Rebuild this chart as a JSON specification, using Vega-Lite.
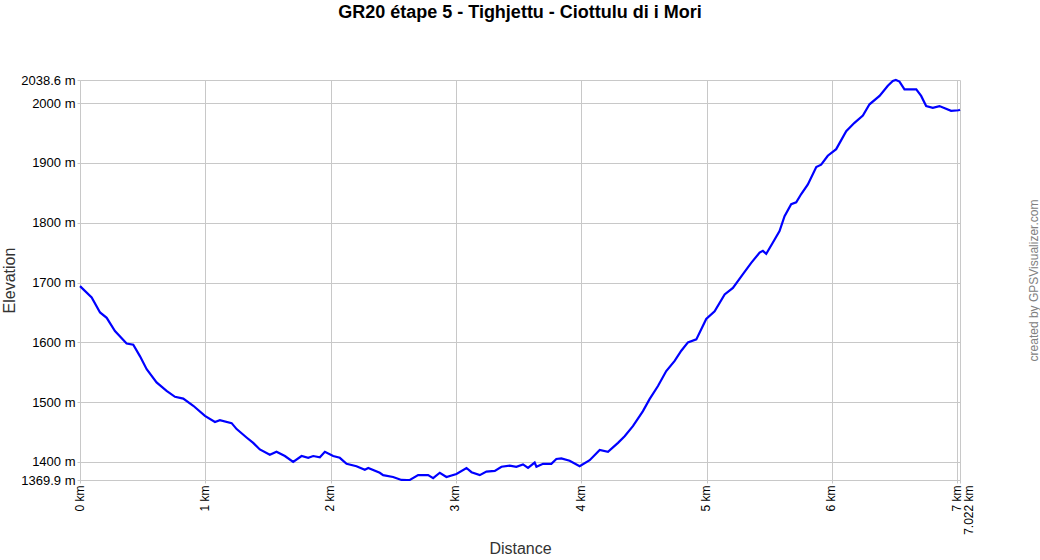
{
  "$schema": "https://vega.github.io/schema/vega-lite/v6.json",
  "width": 880,
  "height": 400,
  "autosize": {"type": "none"},
  "padding": {"left": 80, "top": 80, "right": 80, "bottom": 80},
  "background": "white",
  "title": {
    "text": "GR20 étape 5 - Tighjettu - Ciottulu di i Mori",
    "font": "Liberation Sans",
    "fontSize": 18,
    "fontWeight": "bold",
    "color": "black",
    "anchor": "middle",
    "frame": "group",
    "offset": 52
  },
  "config": {
    "view": {"stroke": null},
    "font": "Liberation Sans"
  },
  "data": {
    "values": [
      {"km": 0, "ele": 1694},
      {"km": 0.093, "ele": 1675},
      {"km": 0.16, "ele": 1650},
      {"km": 0.213, "ele": 1641},
      {"km": 0.279, "ele": 1619},
      {"km": 0.372, "ele": 1598},
      {"km": 0.425, "ele": 1596},
      {"km": 0.478, "ele": 1577},
      {"km": 0.532, "ele": 1555},
      {"km": 0.611, "ele": 1533},
      {"km": 0.691, "ele": 1519},
      {"km": 0.758, "ele": 1509},
      {"km": 0.824, "ele": 1506},
      {"km": 0.904, "ele": 1494},
      {"km": 0.997, "ele": 1477},
      {"km": 1.077, "ele": 1467},
      {"km": 1.116, "ele": 1470},
      {"km": 1.21, "ele": 1465},
      {"km": 1.25, "ele": 1455},
      {"km": 1.329, "ele": 1441},
      {"km": 1.382, "ele": 1432},
      {"km": 1.435, "ele": 1421},
      {"km": 1.515, "ele": 1412},
      {"km": 1.568, "ele": 1417},
      {"km": 1.635, "ele": 1410},
      {"km": 1.701, "ele": 1400},
      {"km": 1.768, "ele": 1410},
      {"km": 1.821, "ele": 1407},
      {"km": 1.861, "ele": 1410},
      {"km": 1.914, "ele": 1408},
      {"km": 1.954, "ele": 1417},
      {"km": 2.02, "ele": 1410},
      {"km": 2.073, "ele": 1407},
      {"km": 2.127, "ele": 1397},
      {"km": 2.206, "ele": 1393},
      {"km": 2.273, "ele": 1387},
      {"km": 2.3, "ele": 1390},
      {"km": 2.392, "ele": 1382},
      {"km": 2.419, "ele": 1378},
      {"km": 2.498, "ele": 1375},
      {"km": 2.565, "ele": 1370},
      {"km": 2.61, "ele": 1369.9},
      {"km": 2.632, "ele": 1370},
      {"km": 2.698, "ele": 1378},
      {"km": 2.778, "ele": 1378},
      {"km": 2.818, "ele": 1373},
      {"km": 2.871, "ele": 1382},
      {"km": 2.924, "ele": 1375},
      {"km": 3.004, "ele": 1380},
      {"km": 3.084, "ele": 1390},
      {"km": 3.124, "ele": 1383},
      {"km": 3.19, "ele": 1378},
      {"km": 3.243, "ele": 1384},
      {"km": 3.31, "ele": 1385},
      {"km": 3.363, "ele": 1392},
      {"km": 3.429, "ele": 1394},
      {"km": 3.482, "ele": 1392},
      {"km": 3.535, "ele": 1396},
      {"km": 3.575, "ele": 1390},
      {"km": 3.628, "ele": 1399},
      {"km": 3.642, "ele": 1392},
      {"km": 3.695, "ele": 1397},
      {"km": 3.761, "ele": 1397},
      {"km": 3.801, "ele": 1405},
      {"km": 3.841, "ele": 1406},
      {"km": 3.907, "ele": 1402},
      {"km": 3.987, "ele": 1393},
      {"km": 4.067, "ele": 1403},
      {"km": 4.147, "ele": 1420},
      {"km": 4.213, "ele": 1417},
      {"km": 4.293, "ele": 1432},
      {"km": 4.346, "ele": 1443},
      {"km": 4.412, "ele": 1460},
      {"km": 4.492, "ele": 1485},
      {"km": 4.545, "ele": 1505},
      {"km": 4.612, "ele": 1527},
      {"km": 4.678, "ele": 1552},
      {"km": 4.745, "ele": 1569},
      {"km": 4.798, "ele": 1586},
      {"km": 4.851, "ele": 1600},
      {"km": 4.918, "ele": 1605},
      {"km": 4.997, "ele": 1639},
      {"km": 5.064, "ele": 1652},
      {"km": 5.144, "ele": 1680},
      {"km": 5.21, "ele": 1691},
      {"km": 5.29, "ele": 1714},
      {"km": 5.356, "ele": 1733},
      {"km": 5.423, "ele": 1750},
      {"km": 5.449, "ele": 1753},
      {"km": 5.476, "ele": 1748},
      {"km": 5.529, "ele": 1767},
      {"km": 5.582, "ele": 1786},
      {"km": 5.622, "ele": 1811},
      {"km": 5.675, "ele": 1831},
      {"km": 5.715, "ele": 1834},
      {"km": 5.755, "ele": 1848},
      {"km": 5.808, "ele": 1864},
      {"km": 5.875, "ele": 1893},
      {"km": 5.914, "ele": 1897},
      {"km": 5.967, "ele": 1912},
      {"km": 6.034, "ele": 1923},
      {"km": 6.114, "ele": 1953},
      {"km": 6.18, "ele": 1967},
      {"km": 6.247, "ele": 1979},
      {"km": 6.3, "ele": 1998},
      {"km": 6.38, "ele": 2012},
      {"km": 6.446, "ele": 2029},
      {"km": 6.486, "ele": 2037},
      {"km": 6.51, "ele": 2038.6},
      {"km": 6.539, "ele": 2036},
      {"km": 6.579, "ele": 2023},
      {"km": 6.673, "ele": 2023},
      {"km": 6.712, "ele": 2012},
      {"km": 6.752, "ele": 1995},
      {"km": 6.805, "ele": 1992},
      {"km": 6.858, "ele": 1995},
      {"km": 6.951, "ele": 1987},
      {"km": 7.011, "ele": 1988},
      {"km": 7.022, "ele": 1989}
    ]
  },
  "layer": [
    {
      "mark": {"type": "line", "color": "#0000ff", "strokeWidth": 2.2, "interpolate": "linear"},
      "encoding": {
        "x": {
          "field": "km", "type": "quantitative",
          "scale": {"domain": [0, 7.022], "nice": false, "zero": false},
          "axis": {
            "title": "Distance",
            "titleFont": "Liberation Sans", "titleFontSize": 16, "titleFontWeight": "normal", "titleColor": "#333333",
            "titlePadding": 29,
            "values": [0, 1, 2, 3, 4, 5, 6, 7],
            "labelExpr": "datum.value + ' km'",
            "labelAngle": -90,
            "labelFont": "Liberation Sans", "labelFontSize": 12, "labelColor": "black",
            "labelPadding": 2,
            "labelOffset": -1,
            "labelOverlap": false,
            "labelFlush": false,
            "tickSize": 3, "tickColor": "#c8c8c8",
            "grid": true, "gridColor": "#c8c8c8", "gridWidth": 1,
            "domainColor": "#c8c8c8"
          }
        },
        "y": {
          "field": "ele", "type": "quantitative",
          "scale": {"domain": [1369.9, 2038.6], "nice": false, "zero": false},
          "axis": {
            "title": "Elevation",
            "titleFont": "Liberation Sans", "titleFontSize": 16, "titleFontWeight": "normal", "titleColor": "#333333",
            "titlePadding": 3,
            "values": [1369.9, 1400, 1500, 1600, 1700, 1800, 1900, 2000, 2038.6],
            "labelExpr": "datum.value + ' m'",
            "labelFont": "Liberation Sans", "labelFontSize": 13, "labelColor": "black",
            "labelPadding": 2,
            "labelOverlap": false,
            "labelFlush": false,
            "tickSize": 3, "tickColor": "#c8c8c8",
            "grid": true, "gridColor": "#c8c8c8", "gridWidth": 1,
            "domainColor": "#c8c8c8"
          }
        }
      }
    },
    {
      "mark": {"type": "line", "color": "#0000ff", "strokeWidth": 2, "opacity": 0},
      "encoding": {
        "x": {
          "field": "km", "type": "quantitative",
          "scale": {"domain": [0, 7.022], "nice": false, "zero": false},
          "axis": {
            "orient": "bottom",
            "title": null,
            "values": [7.022],
            "labelExpr": "datum.value + ' km'",
            "labelAngle": -90,
            "labelFont": "Liberation Sans", "labelFontSize": 12, "labelColor": "black",
            "labelPadding": 2,
            "labelOffset": 8,
            "labelOverlap": false,
            "labelFlush": false,
            "tickSize": 3, "tickColor": "#c8c8c8",
            "grid": true, "gridColor": "#c8c8c8", "gridWidth": 1,
            "domain": false
          }
        },
        "y": {
          "field": "ele", "type": "quantitative",
          "scale": {"domain": [1369.9, 2038.6], "nice": false, "zero": false},
          "axis": {
            "orient": "right",
            "title": "created by GPSVisualizer.com",
            "titleAngle": -90,
            "titleFont": "Liberation Sans", "titleFontSize": 12, "titleFontWeight": "normal", "titleColor": "#808080",
            "titlePadding": 80,
            "labels": false, "ticks": false, "domain": false, "grid": false
          }
        }
      }
    }
  ],
  "resolve": {
    "scale": {"x": "independent", "y": "independent"},
    "axis": {"x": "independent", "y": "independent"}
  }
}
